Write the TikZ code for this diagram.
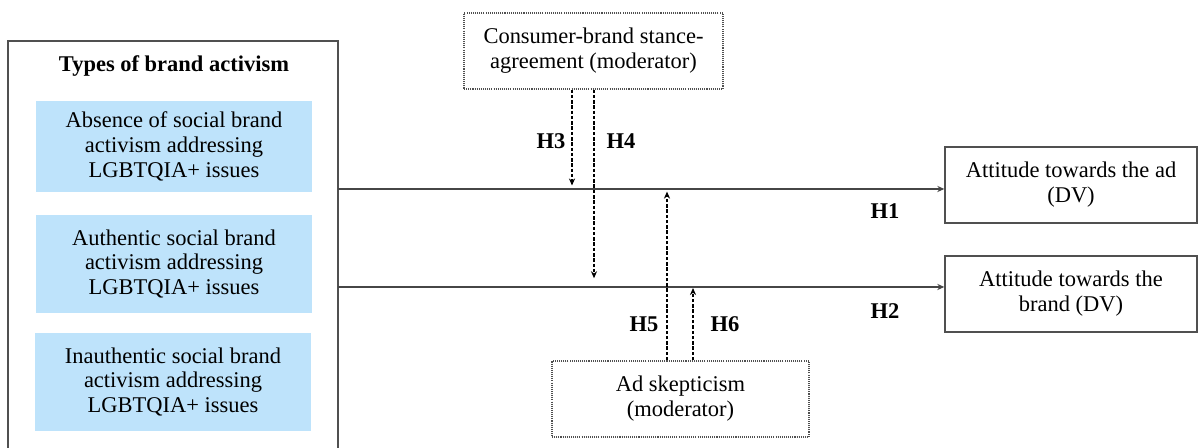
\documentclass[tikz,border=0pt]{standalone}
\usepackage{fontspec}
\setmainfont{Liberation Serif}
\usetikzlibrary{arrows.meta}
\definecolor{lightblue}{RGB}{190,227,251}
\definecolor{boxgray}{RGB}{80,80,80}
\definecolor{linegray}{RGB}{70,70,70}
\begin{document}
\begin{tikzpicture}[x=0.02cm,y=-0.02cm,
  every node/.style={font=\fontsize{12.8}{14.2}\selectfont, align=center, inner sep=0pt},
  bluebox/.style={fill=lightblue, minimum width=5.52cm},
  dvbox/.style={draw=boxgray, line width=0.8pt, minimum width=5.04cm, minimum height=1.52cm},
  modbox/.style={draw=boxgray, line width=0.7pt, dash pattern=on 0.6pt off 0.6pt, minimum height=1.52cm},
  mainline/.style={draw=linegray, line width=1.2pt, -{Stealth[length=4pt,width=3.5pt]}},
  modarrow/.style={draw=black, line width=0.6pt, dash pattern=on 2pt off 1pt, -{Stealth[length=4pt,width=3.5pt]}},
  hlabel/.style={font=\fontsize{12.8}{14.2}\selectfont\bfseries}
]
\useasboundingbox (0,0) rectangle (1198,448);
% outer frame (open at the bottom edge)
\draw[boxgray, line width=0.8pt] (8,449) |- (338,41) -- (338,449);
\node[font=\fontsize{12.8}{14.2}\selectfont\bfseries] (title) at (174,66) {Types of brand activism};
\node[bluebox, minimum height=1.82cm] (b1) at (174,146.5) {Absence of social brand\\activism addressing\\LGBTQIA+ issues};
\node[bluebox, minimum height=1.96cm] (b2) at (174,264) {Authentic social brand\\activism addressing\\LGBTQIA+ issues};
\node[bluebox, minimum height=1.96cm] (b3) at (173,382) {Inauthentic social brand\\activism addressing\\LGBTQIA+ issues};
% dependent variables
\node[dvbox] (dv1) at (1071,185) {Attitude towards the ad\\(DV)};
\node[dvbox] (dv2) at (1071,294) {Attitude towards the\\brand (DV)};
% moderators
\node[modbox, minimum width=5.18cm] (m1) at (593.5,51) {Consumer-brand stance-\\agreement (moderator)};
\node[modbox, minimum width=5.14cm] (m2) at (680.5,399) {Ad skepticism\\(moderator)};
% main paths
\coordinate (s1) at (338,189);
\coordinate (s2) at (338,287);
\draw[mainline] (s1) -- (s1 -| dv1.west);
\draw[mainline] (s2) -- (s2 -| dv2.west);
% moderating arrows
\coordinate (h3x) at (572,0);
\coordinate (h4x) at (594,0);
\coordinate (h5x) at (667,0);
\coordinate (h6x) at (693,0);
\draw[modarrow] (h3x |- m1.south) -- ([yshift=2pt]h3x |- s1);
\draw[modarrow] (h4x |- m1.south) -- ([yshift=5pt]h4x |- s2);
\draw[modarrow] (h5x |- m2.north) -- ([yshift=-1.5pt]h5x |- s1);
\draw[modarrow] (h6x |- m2.north) -- ([yshift=-0.6pt]h6x |- s2);
% hypothesis labels
\node[hlabel] (H3) at (551,141) {H3};
\node[hlabel] (H4) at (621,141) {H4};
\node[hlabel] (H1) at (885,211) {H1};
\node[hlabel] (H2) at (885,311) {H2};
\node[hlabel] (H5) at (644,324) {H5};
\node[hlabel] (H6) at (725,324) {H6};
\end{tikzpicture}
\end{document}
